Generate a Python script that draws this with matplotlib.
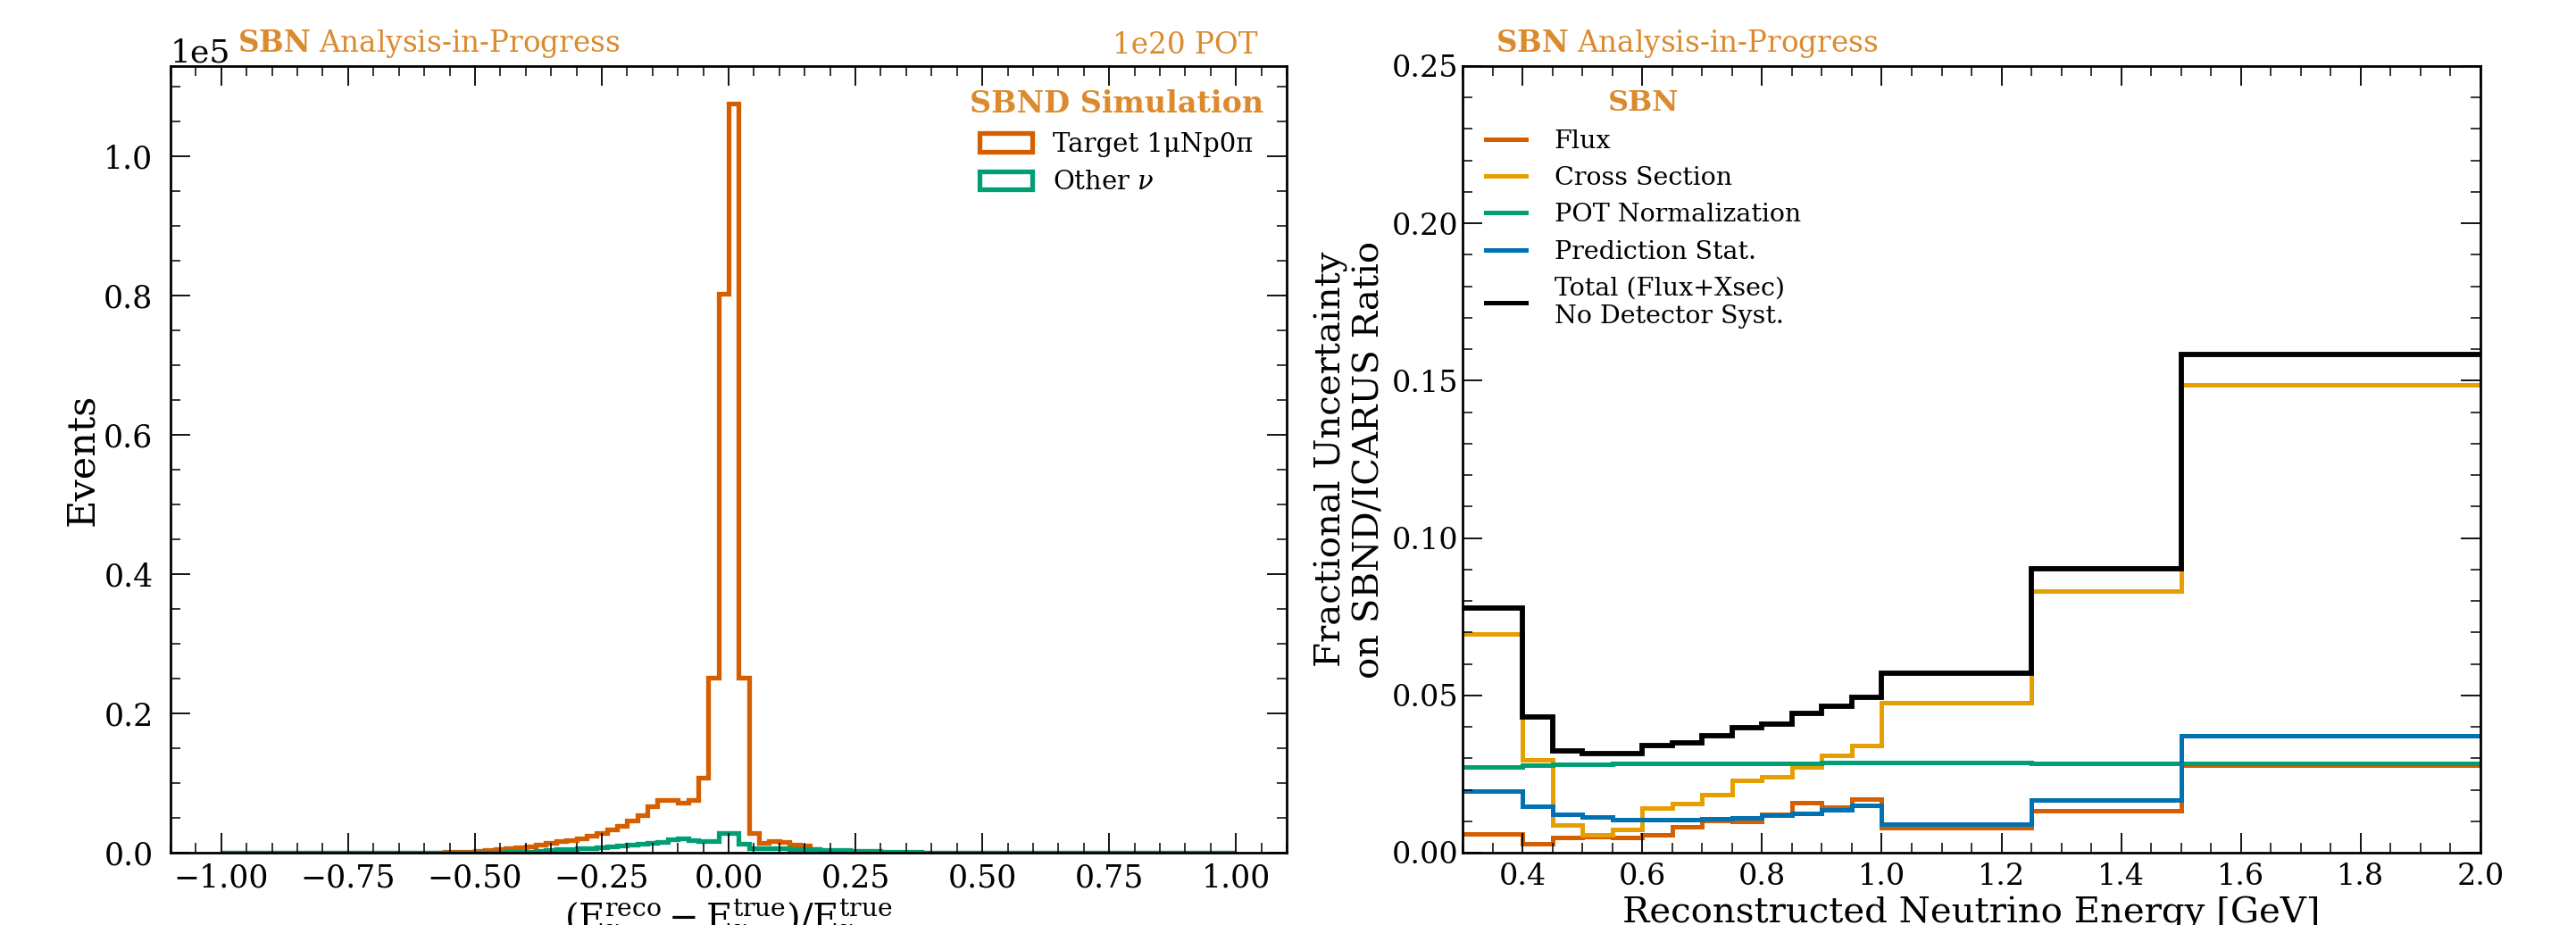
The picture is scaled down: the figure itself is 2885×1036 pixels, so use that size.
import numpy as np
import matplotlib.pyplot as plt
from matplotlib.ticker import MultipleLocator
from matplotlib.lines import Line2D
from matplotlib.patches import Rectangle

plt.rcParams['font.family'] = 'DejaVu Serif'
plt.rcParams['mathtext.fontset'] = 'dejavuserif'

sbn_orange = '#DB8A2E'

# left panel: (E_reco - E_true)/E_true, 100 bins from -1 to 1, contents in 1e5 events
res_edges = np.linspace(-1.0, 1.0, 101)
target_counts = [
    0, 0, 0, 0, 0, 0, 0, 0, 0, 0,
    0, 0, 0, 0, 0, 0, 0, 0, 0, 0,
    0.0003, 0.0005, 0.0007, 0.001, 0.0015, 0.0025, 0.0035, 0.0045, 0.0058, 0.0072,
    0.0088, 0.011, 0.014, 0.016, 0.018, 0.021, 0.024, 0.028, 0.033, 0.039,
    0.046, 0.054, 0.066, 0.075, 0.076, 0.072, 0.075, 0.107, 0.251, 0.802,
    1.075, 0.251, 0.028, 0.014, 0.016, 0.015, 0.0115, 0.010, 0.005, 0.003,
    0.002, 0.0015, 0.001, 0.0007, 0.0005, 0.0003, 0, 0, 0, 0,
    0, 0, 0, 0, 0, 0, 0, 0, 0, 0,
    0, 0, 0, 0, 0, 0, 0, 0, 0, 0,
    0, 0, 0, 0, 0, 0, 0, 0, 0, 0,
]
other_counts = [
    0, 0, 0, 0, 0, 0, 0, 0, 0, 0,
    0, 0, 0, 0, 0, 0, 0, 0, 0, 0,
    0.0001, 0.0001, 0.0002, 0.0002, 0.0002, 0.0003, 0.0004, 0.0006, 0.0008, 0.001,
    0.0015, 0.0025, 0.0035, 0.0045, 0.0055, 0.0064, 0.007, 0.008, 0.009, 0.010,
    0.0115, 0.0125, 0.014, 0.0155, 0.019, 0.021, 0.018, 0.017, 0.016, 0.028,
    0.028, 0.013, 0.007, 0.0065, 0.006, 0.0058, 0.0055, 0.005, 0.0047, 0.0043,
    0.004, 0.0035, 0.003, 0.0025, 0.002, 0.0015, 0.0012, 0.001, 0.0007, 0.0005,
    0.0004, 0.0003, 0.0002, 0, 0, 0, 0, 0, 0, 0,
    0, 0, 0, 0, 0, 0, 0, 0, 0, 0,
    0, 0, 0, 0, 0, 0, 0, 0, 0, 0,
]

# right panel: fractional uncertainties vs reconstructed energy
energy_edges = [0.3, 0.4, 0.45, 0.5, 0.55, 0.6, 0.65, 0.7, 0.75, 0.8, 0.85,
                0.9, 0.95, 1.0, 1.25, 1.5, 2.0]
flux = [0.0059, 0.0028, 0.0049, 0.0051, 0.0049, 0.0057, 0.0081, 0.0103,
        0.0100, 0.0122, 0.0158, 0.0146, 0.0169, 0.0079, 0.0133, 0.0278]
xsec = [0.0696, 0.0296, 0.0089, 0.0057, 0.0073, 0.0142, 0.0156, 0.0184,
        0.0230, 0.0241, 0.0272, 0.0308, 0.0340, 0.0478, 0.0830, 0.1487]
pot = [0.0272, 0.0279, 0.0281, 0.0282, 0.0283, 0.0283, 0.0284, 0.0284,
       0.0285, 0.0285, 0.0285, 0.0286, 0.0286, 0.0286, 0.0285, 0.0284]
stat = [0.0196, 0.0147, 0.0122, 0.0113, 0.0106, 0.0106, 0.0106, 0.0108,
        0.0111, 0.0118, 0.0125, 0.0135, 0.0149, 0.0090, 0.0168, 0.0373]
total = [0.0777, 0.0432, 0.0323, 0.0315, 0.0315, 0.0341, 0.0348, 0.0372,
         0.0396, 0.0408, 0.0443, 0.0465, 0.0495, 0.0570, 0.0901, 0.1582]

fig = plt.figure(figsize=(28.85, 10.36), dpi=100)
ax1 = fig.add_axes([0.0662, 0.0782, 0.4333, 0.8504])
ax2 = fig.add_axes([0.5678, 0.0782, 0.3951, 0.8504])

# left: resolution histogram
ax1.stairs(np.array(target_counts) * 1e5, res_edges, color='#D55E00', lw=3.8)
ax1.stairs(np.array(other_counts) * 1e5, res_edges, color='#009E73', lw=3.8)
ax1.set_xlim(-1.1, 1.1)
ax1.set_ylim(0, 1.129e5)
ax1.ticklabel_format(axis='y', style='sci', scilimits=(0, 0))
ax1.yaxis.get_offset_text().set_fontsize(26)
ax1.xaxis.set_major_locator(MultipleLocator(0.25))
ax1.xaxis.set_minor_locator(MultipleLocator(0.05))
ax1.yaxis.set_major_locator(MultipleLocator(20000))
ax1.yaxis.set_minor_locator(MultipleLocator(5000))
ax1.set_ylabel('Events', fontsize=31, labelpad=2)
ax1.set_xlabel(r'$(\mathrm{E}_\nu^{\rm reco} - \mathrm{E}_\nu^{\rm true})/\mathrm{E}_\nu^{\rm true}$',
               fontsize=29)
box_handles = [Rectangle((0, 0), 1, 1, facecolor='none', edgecolor=c, lw=3.8)
               for c in ['#D55E00', '#009E73']]
leg1 = ax1.legend(box_handles, ['Target 1μNp0π', r'Other $\nu$'], loc='upper right',
                  frameon=False, fontsize=21, title='SBND Simulation',
                  title_fontproperties={'size': 24, 'weight': 'bold'})
leg1.get_title().set_color(sbn_orange)
ax1.text(0.06, 1.008, r'$\mathbf{SBN}$ Analysis-in-Progress', transform=ax1.transAxes,
         fontsize=23.5, color=sbn_orange, ha='left', va='bottom')
ax1.text(0.974, 1.008, '1e20 POT', transform=ax1.transAxes,
         fontsize=23.5, color=sbn_orange, ha='right', va='bottom')

# right: uncertainty breakdown
ax2.stairs(flux, energy_edges, baseline=None, color='#D55E00', lw=3.6)
ax2.stairs(xsec, energy_edges, baseline=None, color='#E69F00', lw=3.6)
ax2.stairs(pot, energy_edges, baseline=None, color='#009E73', lw=3.6)
ax2.stairs(stat, energy_edges, baseline=None, color='#0072B2', lw=3.6)
ax2.stairs(total, energy_edges, baseline=None, color='black', lw=4.2)
ax2.set_xlim(0.3, 2.0)
ax2.set_ylim(0, 0.25)
ax2.xaxis.set_major_locator(MultipleLocator(0.2))
ax2.xaxis.set_minor_locator(MultipleLocator(0.05))
ax2.yaxis.set_major_locator(MultipleLocator(0.05))
ax2.yaxis.set_minor_locator(MultipleLocator(0.01))
ax2.set_xlabel('Reconstructed Neutrino Energy [GeV]', fontsize=29)
ax2.set_ylabel('Fractional Uncertainty\non SBND/ICARUS Ratio', fontsize=29)
handles = [Line2D([], [], color=c, lw=3.6) for c in
           ['#D55E00', '#E69F00', '#009E73', '#0072B2', 'black']]
labels = ['Flux', 'Cross Section', 'POT Normalization', 'Prediction Stat.',
          'Total (Flux+Xsec)\nNo Detector Syst.']
leg2 = ax2.legend(handles, labels, loc='upper left', frameon=False, fontsize=20.5,
                  handlelength=1.6, handletextpad=1.1, title='SBN',
                  title_fontproperties={'size': 23, 'weight': 'bold'})
leg2.get_title().set_color(sbn_orange)
ax2.text(0.032, 1.008, r'$\mathbf{SBN}$ Analysis-in-Progress', transform=ax2.transAxes,
         fontsize=23.5, color=sbn_orange, ha='left', va='bottom')

for ax in (ax1, ax2):
    ax.tick_params(which='both', direction='in', top=True, right=True)
    ax.tick_params(which='major', length=16, width=1.3)
    ax.tick_params(which='minor', length=8, width=1.1)
    for s in ax.spines.values():
        s.set_linewidth(2)
ax1.tick_params(labelsize=25)
ax2.tick_params(labelsize=24)
ax1.tick_params(axis='y', pad=14)
ax1.tick_params(axis='x', pad=8)
ax2.tick_params(axis='x', pad=8)

fig.savefig('out.png', dpi=100)
